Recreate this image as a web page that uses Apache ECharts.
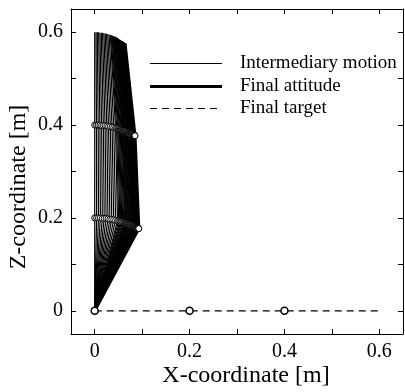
<!DOCTYPE html>
<html>
<head>
<meta charset="utf-8">
<script src="https://cdn.jsdelivr.net/npm/echarts@6/dist/echarts.min.js"></script>
<style>
html, body { margin: 0; padding: 0; background: #fff; }
#chart { width: 405px; height: 392px; }
</style>
</head>
<body>
<div id="chart"></div>
<script>
// intermediary motion: joint 1, joint 2 and tip of each frame (frames bunch up near the end)
var j1X = [0, 0.004, 0.008, 0.012, 0.016, 0.020, 0.024, 0.028, 0.032, 0.036, 0.040, 0.044, 0.048,
	0.0505, 0.053, 0.055, 0.057, 0.059, 0.061, 0.063, 0.0645, 0.066, 0.0675, 0.069, 0.0705, 0.072,
	0.0735, 0.075, 0.0762, 0.0775, 0.0787, 0.080, 0.081, 0.082, 0.083, 0.084, 0.085, 0.086, 0.087,
	0.088, 0.0888, 0.0896, 0.0903, 0.091, 0.0916, 0.0922];
var j1Z = [0.200, 0.200, 0.200, 0.200, 0.199, 0.199, 0.199, 0.198, 0.197, 0.197, 0.196, 0.195, 0.194,
	0.194, 0.193, 0.192, 0.192, 0.191, 0.190, 0.190, 0.189, 0.189, 0.188, 0.188, 0.187, 0.187,
	0.186, 0.185, 0.185, 0.184, 0.184, 0.183, 0.183, 0.182, 0.182, 0.182, 0.181, 0.181, 0.180,
	0.180, 0.179, 0.179, 0.178, 0.178, 0.178, 0.177];
var j2X = [0, 0.0037, 0.0073, 0.0110, 0.0146, 0.0183, 0.0219, 0.0256, 0.0292, 0.0329, 0.0366, 0.0402, 0.0439,
	0.0462, 0.0484, 0.0503, 0.0521, 0.0539, 0.0558, 0.0576, 0.0590, 0.0603, 0.0617, 0.0631, 0.0644, 0.0658,
	0.0672, 0.0686, 0.0696, 0.0708, 0.0719, 0.0731, 0.0740, 0.0749, 0.0759, 0.0768, 0.0777, 0.0786, 0.0795,
	0.0804, 0.0812, 0.0819, 0.0825, 0.0832, 0.0837, 0.0843];
var j2Z = [0.400, 0.400, 0.400, 0.400, 0.399, 0.399, 0.399, 0.398, 0.397, 0.397, 0.396, 0.395, 0.394,
	0.394, 0.393, 0.392, 0.392, 0.391, 0.390, 0.390, 0.389, 0.389, 0.388, 0.388, 0.387, 0.387,
	0.386, 0.385, 0.385, 0.384, 0.384, 0.383, 0.383, 0.382, 0.382, 0.382, 0.381, 0.381, 0.380,
	0.380, 0.379, 0.379, 0.378, 0.378, 0.378, 0.377];
var tipX = [0, 0.0028, 0.0055, 0.0083, 0.0110, 0.0138, 0.0165, 0.0193, 0.0220, 0.0248, 0.0275, 0.0303, 0.0330,
	0.0347, 0.0365, 0.0378, 0.0392, 0.0406, 0.0420, 0.0433, 0.0444, 0.0454, 0.0464, 0.0475, 0.0485, 0.0495,
	0.0506, 0.0516, 0.0524, 0.0533, 0.0541, 0.0550, 0.0557, 0.0564, 0.0571, 0.0578, 0.0585, 0.0592, 0.0599,
	0.0605, 0.0611, 0.0616, 0.0621, 0.0626, 0.0630, 0.0634];
var tipZ = [0.600, 0.600, 0.600, 0.600, 0.599, 0.599, 0.599, 0.598, 0.597, 0.597, 0.596, 0.595, 0.594,
	0.594, 0.593, 0.592, 0.592, 0.591, 0.590, 0.590, 0.589, 0.589, 0.588, 0.588, 0.586, 0.586,
	0.585, 0.584, 0.584, 0.583, 0.583, 0.582, 0.582, 0.581, 0.581, 0.581, 0.580, 0.580, 0.579,
	0.579, 0.578, 0.578, 0.577, 0.577, 0.577, 0.576];

// final attitude (base, joint 1, joint 2, tip)
var finalX = [0, 0.093, 0.085, 0.064];
var finalZ = [0, 0.177, 0.377, 0.576];

// final target (arm lying along the x axis)
var targetX = [0, 0.2, 0.4, 0.6];
var targetZ = [0, 0, 0, 0];

var serif = '"Liberation Serif", "Times New Roman", serif';

// last point (the tip) carries no marker
function armData(xs, zs) {
	var d = [];
	for (var i = 0; i < xs.length; i++) {
		if (i == xs.length - 1) {
			d.push({ value : [ xs[i], zs[i] ], symbol : 'none' });
		} else {
			d.push([ xs[i], zs[i] ]);
		}
	}
	return d;
}

var series = [];
for (var k = 0; k < j1X.length; k++) {
	series.push({
		type : 'line',
		data : armData([ 0, j1X[k], j2X[k], tipX[k] ], [ 0, j1Z[k], j2Z[k], tipZ[k] ]),
		symbol : 'circle',
		symbolSize : 6,
		lineStyle : { color : '#000', width : 1.2 },
		itemStyle : { color : '#fff', borderColor : '#000', borderWidth : 1 },
		silent : true,
		z : 2 + k * 0.01
	});
}
series.push({
	type : 'line',
	data : armData(finalX, finalZ),
	symbol : 'circle',
	symbolSize : 6,
	lineStyle : { color : '#000', width : 3 },
	itemStyle : { color : '#fff', borderColor : '#000', borderWidth : 1 },
	silent : true,
	z : 3
});
series.push({
	type : 'line',
	data : armData(targetX, targetZ),
	symbol : 'circle',
	symbolSize : 7,
	lineStyle : { color : '#000', width : 1.3, type : [ 7, 5 ] },
	itemStyle : { color : '#fff', borderColor : '#000', borderWidth : 1.5 },
	silent : true,
	z : 4
});

function tickLabel(v) {
	var r = Math.round(v * 10);
	if (Math.abs(v * 10 - r) > 1e-6 || r % 2 != 0) return '';
	return r == 0 ? '0' : (r / 10).toFixed(1);
}

function axis(pos, show) {
	return {
		type : 'value',
		position : pos,
		min : -0.05,
		max : 0.65,
		splitNumber : 7,
		splitLine : { show : false },
		axisLine : { show : true, onZero : false, lineStyle : { color : '#000', width : 1 } },
		axisTick : { show : true, inside : true, length : 5, lineStyle : { color : '#000' } },
		axisLabel : {
			show : show,
			color : '#000',
			fontSize : 20,
			fontFamily : serif,
			margin : 8,
			formatter : tickLabel,
			showMinLabel : false,
			showMaxLabel : false
		}
	};
}

var chart = echarts.init(document.getElementById('chart'));
chart.setOption({
	animation : false,
	backgroundColor : '#fff',
	grid : { left : 71, top : 9, right : 2, bottom : 58, containLabel : false },
	xAxis : [ axis('bottom', true), axis('top', false) ],
	yAxis : [ axis('left', true), axis('right', false) ],
	series : series,
	graphic : [
		{ type : 'text', x : 246, y : 376,
			style : { text : 'X-coordinate [m]', font : '24px ' + serif, fill : '#000',
				textAlign : 'center', textVerticalAlign : 'middle' } },
		{ type : 'text', x : 19, y : 187, rotation : Math.PI / 2,
			style : { text : 'Z-coordinate [m]', font : '24px ' + serif, fill : '#000',
				textAlign : 'center', textVerticalAlign : 'middle' } },
		{ type : 'line', shape : { x1 : 150, y1 : 63.5, x2 : 222, y2 : 63.5 }, style : { stroke : '#000', lineWidth : 1 } },
		{ type : 'line', shape : { x1 : 150, y1 : 86.5, x2 : 222, y2 : 86.5 }, style : { stroke : '#000', lineWidth : 3 } },
		{ type : 'line', shape : { x1 : 150, y1 : 108.5, x2 : 222, y2 : 108.5 },
			style : { stroke : '#000', lineWidth : 1, lineDash : [ 7, 5 ] } },
		{ type : 'text', x : 240, y : 63,
			style : { text : 'Intermediary motion', font : '19px ' + serif, fill : '#000', textVerticalAlign : 'middle' } },
		{ type : 'text', x : 240, y : 86,
			style : { text : 'Final attitude', font : '19px ' + serif, fill : '#000', textVerticalAlign : 'middle' } },
		{ type : 'text', x : 240, y : 108,
			style : { text : 'Final target', font : '19px ' + serif, fill : '#000', textVerticalAlign : 'middle' } }
	]
});
</script>
</body>
</html>
